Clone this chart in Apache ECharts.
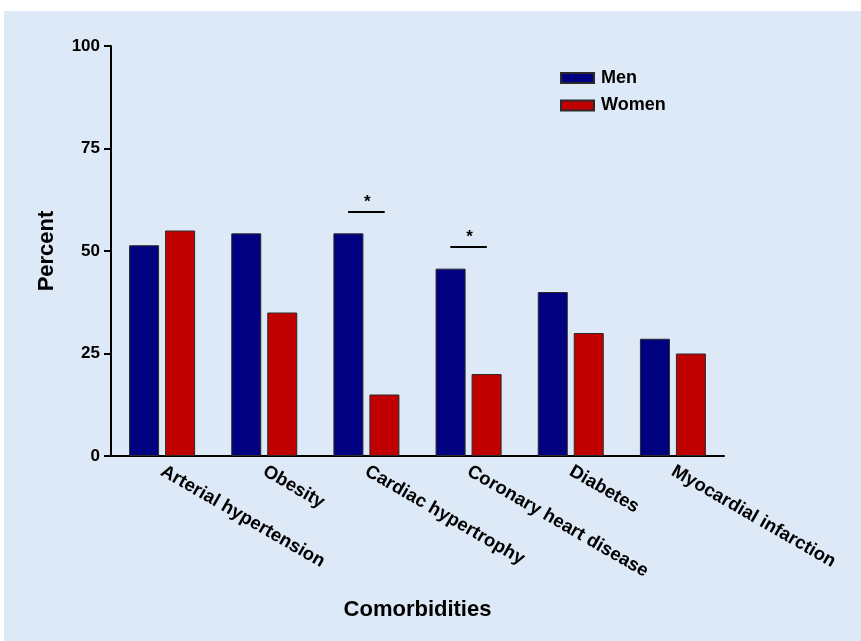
<!DOCTYPE html>
<html>
<head>
<meta charset="utf-8">
<script src="https://cdn.jsdelivr.net/npm/echarts@6/dist/echarts.min.js"></script>
<style>
  html, body { margin: 0; padding: 0; background: #ffffff; }
  #chart { width: 861px; height: 641px; }
</style>
</head>
<body>
<div id="chart"></div>
<script>
// Comorbidity prevalence by sex
const categories = [
  'Arterial hypertension',
  'Obesity',
  'Cardiac hypertrophy',
  'Coronary heart disease',
  'Diabetes',
  'Myocardial infarction'
];
const menValues = [51.4, 54.3, 54.3, 45.7, 40.0, 28.6];
const womenValues = [55, 35, 15, 20, 30, 25];
const yTicks = [0, 25, 50, 75, 100];
// significance brackets: [category index, bracket height in percent]
const sigBrackets = [[2, 59.5], [3, 51]];

const FONT = "'Liberation Sans', Arial, Helvetica, sans-serif";
const BAR_W = 30;

const chart = echarts.init(document.getElementById('chart'), null, { renderer: 'canvas' });

chart.setOption({
  backgroundColor: '#ffffff',
  animation: false,
  textStyle: { fontFamily: FONT },
  graphic: [{
    type: 'rect',
    z: -10,
    silent: true,
    shape: { x: 4, y: 11, width: 861, height: 641 },
    style: { fill: '#dde9f6' }
  }],
  grid: { left: 111, top: 46, width: 613, height: 410, containLabel: false },
  legend: {
    orient: 'vertical',
    left: 560,
    top: 69,
    padding: 0,
    itemWidth: 33,
    itemHeight: 10,
    itemGap: 9.5,
    icon: 'rect',
    textStyle: { fontFamily: FONT, fontSize: 18, fontWeight: 'bold', color: '#000', padding: [0, 0, 0, 2] },
    data: ['Men', 'Women']
  },
  xAxis: {
    type: 'category',
    data: categories,
    name: 'Comorbidities',
    nameLocation: 'middle',
    nameGap: 143,
    nameTextStyle: { fontFamily: FONT, fontSize: 22, fontWeight: 'bold', color: '#000', verticalAlign: 'top' },
    axisLine: { lineStyle: { color: '#000', width: 2 } },
    axisTick: { show: false },
    axisLabel: {
      interval: 0,
      rotate: -30,
      margin: 14,
      fontFamily: FONT,
      fontSize: 18.5,
      fontWeight: 'bold',
      color: '#000'
    }
  },
  yAxis: {
    type: 'value',
    min: 0,
    max: 100,
    interval: 25,
    name: 'Percent',
    nameLocation: 'middle',
    nameGap: 53,
    nameTextStyle: { fontFamily: FONT, fontSize: 22, fontWeight: 'bold', color: '#000' },
    axisLine: { show: true, lineStyle: { color: '#000', width: 2 } },
    axisTick: { show: true, length: 7, lineStyle: { color: '#000', width: 2 } },
    splitLine: { show: false },
    axisLabel: {
      margin: 11,
      fontFamily: FONT,
      fontSize: 17,
      fontWeight: 'bold',
      color: '#000',
      formatter: v => (yTicks.indexOf(v) >= 0 ? String(v) : '')
    }
  },
  series: [
    {
      name: 'Men',
      type: 'bar',
      data: menValues,
      barWidth: BAR_W,
      barGap: '20%',
      itemStyle: { color: '#000080', borderColor: '#2a2a2a', borderWidth: 1 }
    },
    {
      name: 'Women',
      type: 'bar',
      data: womenValues,
      barWidth: BAR_W,
      itemStyle: { color: '#c00000', borderColor: '#2a2a2a', borderWidth: 1 }
    },
    {
      name: 'sig',
      type: 'custom',
      data: sigBrackets,
      z: 5,
      renderItem: function (params, api) {
        const p = api.coord([api.value(0), api.value(1)]);
        const band = api.size([1, 0])[0];
        const half = band * 18.3 / 102.2;
        return {
          type: 'group',
          children: [
            {
              type: 'line',
              shape: { x1: p[0] - half, y1: p[1], x2: p[0] + half, y2: p[1] },
              style: { stroke: '#000', lineWidth: 2 }
            },
            {
              type: 'text',
              style: {
                x: p[0] + 1,
                y: p[1] - 1,
                text: '*',
                fontFamily: FONT,
                fontSize: 17,
                fontWeight: 'bold',
                fill: '#000',
                align: 'center',
                verticalAlign: 'bottom'
              }
            }
          ]
        };
      }
    }
  ]
});
</script>
</body>
</html>
